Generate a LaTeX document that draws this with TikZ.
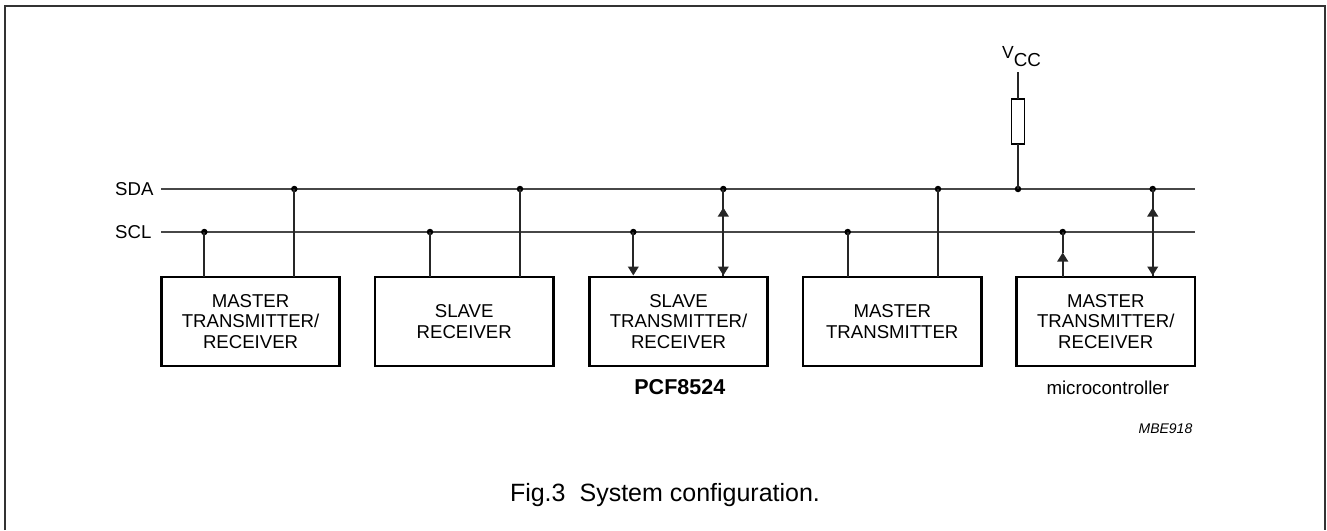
\documentclass[tikz,border=0pt]{standalone}
\usepackage{fontspec}
\setmainfont{Liberation Sans}
\usetikzlibrary{arrows.meta}
\tikzset{
  x=1pt,y=-1pt,
  blockbox/.style={draw=black,line width=2.9pt,outer sep=0pt,minimum width=178.5pt,minimum height=89pt,inner sep=0pt,align=center,font=\fontsize{18.6}{20.6}\selectfont,anchor=north west},
  bus/.style={line width=1.9pt,draw=black!72},
  wire/.style={line width=1.7pt,draw=black!85},
  dotnode/.style={circle,fill=black,inner sep=0pt,minimum size=6.5pt},
  busmark/.style={font=\fontsize{18.6}{20}\selectfont,anchor=base west,inner sep=0pt},
  headtip/.style={-{Triangle[length=9pt,width=10.7pt]}},
}
\begin{document}
\begin{tikzpicture}
\useasboundingbox (0,0) rectangle (1327,530);
\draw[line width=1.7pt,draw=black!80] (5,530) -- (5,5.7) -- (1325,5.7) -- (1325,530);
\coordinate (sdaL) at (161,189); \coordinate (sdaR) at (1195,189);
\coordinate (sclL) at (161,232); \coordinate (sclR) at (1195,232);
\draw[bus] (sdaL) -- (sdaR);
\draw[bus] (sclL) -- (sclR);
\node[busmark] (sda) at (115,195) {SDA};
\node[busmark] (scl) at (115,238) {SCL};

\node[blockbox] (b1) at (161.3,277) {MASTER\\TRANSMITTER/\\RECEIVER};
\node[blockbox] (b2) at (375,277) {SLAVE\\RECEIVER};
\node[blockbox] (b3) at (589.3,277) {SLAVE\\TRANSMITTER/\\RECEIVER};
\node[blockbox] (b4) at (803,277) {MASTER\\TRANSMITTER};
\node[blockbox] (b5) at (1016.5,277) {MASTER\\TRANSMITTER/\\RECEIVER};

\foreach \n/\x/\y in {d1/204.3/232,d2/294.3/189,d3/430/232,d4/520/189,d5/633.3/232,d6/723.3/189,d7/847.7/232,d8/938/189,d9/1062.7/232,d10/1152.7/189,d11/1018/189}
  \node[dotnode] (\n) at (\x,\y) {};

\foreach \n/\b in {d1/b1,d2/b1,d3/b2,d4/b2,d7/b4,d8/b4}
  \draw[wire] (\n.center) -- (\n.center |- \b.north);

\coordinate (a1) at (633.3,275.5);
\coordinate (a2) at (723.3,275.5);
\coordinate (a3) at (723.3,207.5);
\coordinate (a4) at (1062.7,252.5);
\coordinate (a5) at (1152.7,275.5);
\coordinate (a6) at (1152.7,207.5);
\draw[wire,headtip] (d5.center) -- (a1);
\draw[wire,headtip] (d6.center) -- (a2);
\draw[wire,headtip] (a2) -- (a3);
\draw[wire] (d9.center) -- (a4);
\draw[wire,headtip] (a4 |- b5.north) -- (a4);
\draw[wire,headtip] (d10.center) -- (a5);
\draw[wire,headtip] (a5) -- (a6);

\node[draw=black,line width=1.3pt,outer sep=0pt,minimum width=13.5pt,minimum height=45pt,inner sep=0pt] (res) at (1018,121.5) {};
\coordinate (vtop) at (1018,72);
\draw[wire] (vtop) -- (res.north);
\draw[wire] (res.south) -- (d11.center);
\node[inner sep=0pt,anchor=base west] (vcc) at (1002,58) {\fontsize{17.5}{18}\selectfont V\fontsize{18.8}{18}\selectfont\raisebox{-8.5pt}{CC}};

\node[inner sep=0pt,anchor=base] (pcf) at (679.8,394) {\fontsize{21.5}{24}\selectfont\bfseries PCF8524};
\node[inner sep=0pt,anchor=base] (mc) at (1107.8,394) {\fontsize{18.7}{22}\selectfont microcontroller};
\node[inner sep=0pt,anchor=base east] (mbe) at (1192.5,433) {\fontsize{14}{16}\selectfont\itshape MBE918};
\node[inner sep=0pt,anchor=base] (cap) at (665,501) {\fontsize{25}{28}\selectfont Fig.3\hspace{14pt}System configuration.};
\end{tikzpicture}
\end{document}
